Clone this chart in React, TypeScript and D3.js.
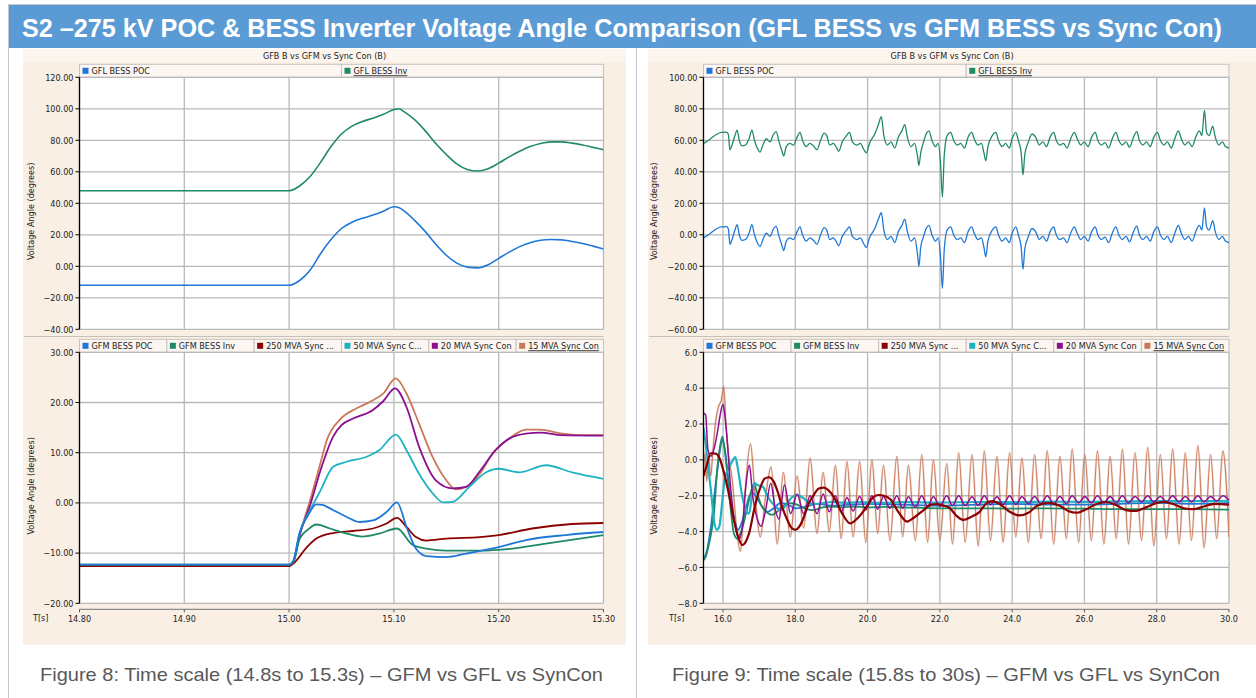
import React from 'react';
import * as d3 from 'd3';

type Pt = [number, number];

const TITLE = 'S2 \u2013275 kV POC & BESS Inverter Voltage Angle Comparison (GFL BESS vs GFM BESS vs Sync Con)';
const PANEL_TITLE = 'GFB B vs GFM vs Sync Con (B)';
const CAPTION_L = 'Figure 8: Time scale (14.8s to 15.3s) \u2013 GFM vs GFL vs SynCon';
const CAPTION_R = 'Figure 9: Time scale (15.8s to 30s) \u2013 GFM vs GFL vs SynCon';
const Y_TITLE = 'Voltage Angle (degrees)';

const upperLegend = ['GFL BESS POC', 'GFL BESS Inv'];
const lowerLegend = ['GFM BESS POC', 'GFM BESS Inv', '250 MVA Sync ...', '50 MVA Sync C...', '20 MVA Sync Con', '15 MVA Sync Con'];
const upperColors = ['#1f78d6', '#1f8a68'];
const lowerColors = ['#1f78d6', '#1f8a68', '#8b0000', '#1fb3c2', '#8b0f90', '#c97858'];

const xTicksL = [14.8, 14.9, 15.0, 15.1, 15.2, 15.3];
const xTicksR = [16, 18, 20, 22, 24, 26, 28, 30];
const yTicksUL = [-40, -20, 0, 20, 40, 60, 80, 100, 120];
const yTicksLL = [-20, -10, 0, 10, 20, 30];
const yTicksUR = [-60, -40, -20, 0, 20, 40, 60, 80, 100];
const yTicksLR = [-8, -6, -4, -2, 0, 2, 4, 6];

// ---- Upper-left: GFL BESS (14.8 - 15.3 s)
const ulPoc: Pt[] = [[14.8,-12],[15.0,-12],[15.01,-9],[15.02,-2.5],[15.03,8],[15.04,17],[15.05,24],[15.06,28],[15.07,30.5],[15.08,32.5],[15.09,35],[15.1,37.8],[15.105,37.2],[15.11,35],[15.12,29],[15.13,22],[15.14,14],[15.15,7],[15.16,2],[15.17,-0.5],[15.18,-1],[15.19,1],[15.2,5],[15.21,9],[15.22,12.5],[15.23,15],[15.24,16.5],[15.25,17],[15.26,16.8],[15.27,15.8],[15.28,14.5],[15.29,12.8],[15.3,11]];
const ulInv: Pt[] = [[14.8,48],[15.0,48],[15.01,51],[15.02,57],[15.03,66],[15.04,76],[15.05,84],[15.06,89],[15.07,92],[15.08,94],[15.09,96.5],[15.1,99.5],[15.105,100],[15.11,98],[15.12,93],[15.13,86],[15.14,78],[15.15,71],[15.16,65],[15.17,61.5],[15.18,60.5],[15.19,62],[15.2,65.5],[15.21,69.5],[15.22,73],[15.23,76],[15.24,78],[15.25,79],[15.26,79],[15.27,78.2],[15.28,77],[15.29,75.5],[15.3,74]];

// ---- Lower-left: GFM BESS and Sync Cons (14.8 - 15.3 s)
const llPoc: Pt[] = [[14.8,-12.3],[15.0,-12.3],[15.004,-11.5],[15.01,-6],[15.018,-2.5],[15.026,-0.3],[15.032,-0.4],[15.039,-1.1],[15.055,-2.8],[15.067,-3.8],[15.08,-3.5],[15.093,-1.8],[15.103,0.1],[15.112,-4.8],[15.121,-9.1],[15.131,-10.6],[15.15,-10.8],[15.169,-10.1],[15.2,-8.8],[15.226,-7.4],[15.264,-6.4],[15.3,-5.8]];
const llInv: Pt[] = [[14.8,-12.3],[15.0,-12.3],[15.004,-11.8],[15.01,-7.2],[15.018,-5.3],[15.026,-4.3],[15.039,-5.1],[15.055,-6.1],[15.07,-6.7],[15.086,-6.1],[15.103,-5.1],[15.118,-8.4],[15.131,-9.1],[15.15,-9.5],[15.182,-9.5],[15.213,-9.1],[15.245,-8.1],[15.3,-6.4]];
const ll250: Pt[] = [[14.8,-12.6],[15.0,-12.6],[15.004,-12.1],[15.017,-8.8],[15.026,-7.1],[15.042,-6.0],[15.061,-5.6],[15.08,-5.1],[15.093,-4.1],[15.103,-3.0],[15.112,-4.8],[15.121,-6.8],[15.131,-7.5],[15.15,-7.1],[15.182,-6.8],[15.2,-6.4],[15.232,-5.1],[15.27,-4.2],[15.3,-4.0]];
const ll50: Pt[] = [[14.8,-12.4],[15.0,-12.4],[15.004,-11.6],[15.01,-6],[15.02,-1.5],[15.03,2.5],[15.042,7.2],[15.055,8.2],[15.074,9.2],[15.086,10.5],[15.102,13.6],[15.112,10.5],[15.124,5.8],[15.137,1.9],[15.147,0.1],[15.156,0.2],[15.172,3.2],[15.188,6.1],[15.2,6.8],[15.22,6.1],[15.245,7.5],[15.27,6.1],[15.3,4.8]];
const ll20: Pt[] = [[14.8,-12.5],[15.0,-12.5],[15.004,-11.8],[15.01,-6.5],[15.02,-0.5],[15.03,6.5],[15.042,13.2],[15.05,15.5],[15.061,16.8],[15.08,18.5],[15.09,20.3],[15.101,22.8],[15.112,19.1],[15.124,11.2],[15.14,4.5],[15.156,2.9],[15.169,3.2],[15.182,6.3],[15.197,10.5],[15.21,12.8],[15.226,13.8],[15.24,14.0],[15.26,13.5],[15.3,13.4]];
const ll15: Pt[] = [[14.8,-12.5],[15.0,-12.5],[15.004,-11.8],[15.01,-6.5],[15.02,0.5],[15.03,8],[15.036,12.5],[15.048,16.5],[15.064,18.8],[15.077,20.1],[15.09,21.8],[15.1016,24.8],[15.112,21.8],[15.124,15.8],[15.137,9.1],[15.15,4.5],[15.159,2.7],[15.169,3.2],[15.182,5.8],[15.194,9.8],[15.21,12.8],[15.226,14.6],[15.239,14.6],[15.261,13.8],[15.277,13.5],[15.3,13.5]];

// ---- Upper-right: GFL BESS (15.5 - 30 s)
const urTime = [15.46,15.6,15.8,15.95,16.1,16.15,16.19,16.25,16.33,16.39,16.45,16.52,16.62,16.72,16.8,16.87,16.95,17.02,17.12,17.2,17.3,17.4,17.47,17.55,17.62,17.68,17.75,17.85,17.95,18.05,18.13,18.2,18.3,18.4,18.5,18.6,18.7,18.8,18.87,18.95,19.05,19.15,19.2,19.3,19.42,19.5,19.58,19.7,19.8,19.9,19.97,20.05,20.2,20.3,20.38,20.45,20.55,20.65,20.75,20.85,20.95,21.03,21.1,21.2,21.3,21.38,21.42,21.47,21.55,21.62,21.7,21.78,21.88,21.95,22.02,22.07,22.12,22.2,22.3,22.38,22.48,22.58,22.68,22.78,22.88,22.95,23.05,23.15,23.22,23.27,23.33,23.45,23.55,23.62,23.72,23.82,23.92,24.0,24.1,24.17,24.25,24.3,24.35,24.45,24.55,24.65,24.75,24.85,24.95,25.05,25.15,25.22,25.32,25.42,25.52,25.62,25.72,25.8,25.9,26.0,26.1,26.2,26.3,26.37,26.47,26.57,26.67,26.77,26.87,26.95,27.05,27.15,27.25,27.35,27.45,27.52,27.62,27.72,27.82,27.92,28.02,28.1,28.2,28.3,28.4,28.5,28.6,28.68,28.78,28.88,28.98,29.08,29.18,29.25,29.32,29.38,29.45,29.55,29.62,29.72,29.82,29.9,30.0];
const urPoc = [-2,0,3.5,5,5.2,3.5,-6,-3,3,6.5,0,-3.5,-3,1,6.5,0,-5,-7.5,-2,1,-1,4,5.5,-1,-6,-10,-4,-2,-3,2,5,0,-4,-2,-3.5,-6,0,4.5,3,-3,-2,-5,-7,-1,3,5,-1,-3,-2,-6,-8,-2,4,10,14,3,-3,-1,-5,2,6,10,2,-4,-2,-12,-20,-8,-1,4,6,0,-4,-2,-15,-34,-10,3,5,0,-3,-2,-5,2,5,1,-3,-2,-8,-14,-4,3,5,0,-4,-2,-5,1,5,0,-8,-22,-9,-1,4,2,-3,-1,-4,2,5,0,-3,-2,-5,1,5,1,-3,-1,-4,2,5,0,-3,-1.5,-5,1,5,0,-3,-1,-4.5,1.5,5.5,0,-3,-1,-4,2,5,0,-3,-1,-5,1,6,1,-3,-1,-4,2,6,3,17,5,3,9,2,-3,-1,-4,-5];
const urInv = [58,60,63.5,65,65.2,63.5,54,57,63,66.5,60,56.5,57,61,66.5,60,55,52.5,58,61,59,64,65.5,59,54,50,56,58,57,62,65,60,56,58,56.5,54,60,64.5,63,57,58,55,53,59,63,65,59,57,58,54,52,58,64,70,75,63,57,59,55,62,66,70,62,56,58,50,44,52,59,64,66,60,56,58,45,24,50,63,65,60,57,58,55,62,65,61,57,58,52,47,56,63,65,60,56,58,55,61,65,60,52,38,51,59,64,62,57,59,56,62,65,60,57,58,55,61,65,61,57,59,56,62,65,60,57,58.5,55,61,65,60,57,59,55.5,61.5,65.5,60,57,59,56,62,65,60,57,59,55,61,66,61,57,59,56,62,66,63,79,65,63,69,62,57,59,56,55];

// ---- Lower-right: GFM BESS and Sync Cons (15.5 - 30 s)
const lrPoc: Pt[] = [[15.46,-5.5],[15.52,-5.3],[15.6,-4.6],[15.68,-3.5],[15.76,-2.0],[15.84,-0.6],[15.92,0.6],[15.98,1.1],[16.05,0.6],[16.12,-0.6],[16.22,-2.2],[16.32,-3.4],[16.42,-3.9],[16.5,-3.6],[16.6,-3.0],[16.7,-2.2],[16.8,-1.8],[16.9,-2.0],[17.05,-2.5],[17.22,-2.9],[17.4,-2.7],[17.6,-2.4],[17.8,-2.5],[18.0,-2.7],[18.3,-2.6],[18.6,-2.45],[19.0,-2.55],[19.5,-2.5],[20.0,-2.45],[21.0,-2.5],[22.0,-2.55],[23.0,-2.5],[24.0,-2.45],[25.0,-2.5],[26.0,-2.5],[27.0,-2.45],[28.0,-2.4],[29.0,-2.45],[30.0,-2.4]];
const lrInv: Pt[] = [[15.46,-5.6],[15.52,-5.4],[15.6,-4.8],[15.68,-4.0],[15.75,-3.0],[15.82,-1.0],[15.9,0.5],[15.98,1.3],[16.05,0.5],[16.12,-0.8],[16.2,-2.5],[16.3,-4.1],[16.4,-4.4],[16.5,-4.0],[16.6,-3.3],[16.7,-2.4],[16.8,-1.6],[16.86,-1.34],[16.95,-1.9],[17.05,-2.5],[17.2,-2.9],[17.35,-3.07],[17.5,-2.9],[17.7,-2.5],[17.87,-2.42],[18.05,-2.5],[18.3,-2.75],[18.51,-2.8],[18.75,-2.65],[19.0,-2.6],[19.3,-2.65],[19.6,-2.6],[20.0,-2.65],[20.5,-2.62],[21.0,-2.65],[22.0,-2.7],[23.0,-2.7],[24.0,-2.72],[25.0,-2.7],[26.0,-2.72],[27.0,-2.75],[28.0,-2.75],[29.0,-2.75],[30.0,-2.78]];
const lr250: Pt[] = [[15.46,-0.9],[15.55,-0.3],[15.66,0.37],[15.8,0.35],[15.9,0.1],[16.03,-0.74],[16.15,-1.8],[16.3,-3.35],[16.42,-4.3],[16.53,-4.75],[16.62,-4.6],[16.72,-4.1],[16.88,-2.6],[17.04,-1.5],[17.15,-1.05],[17.27,-0.97],[17.4,-1.2],[17.5,-1.7],[17.65,-2.7],[17.78,-3.35],[17.9,-3.8],[18.0,-3.9],[18.12,-3.7],[18.24,-3.17],[18.38,-2.4],[18.51,-1.96],[18.65,-1.6],[18.79,-1.55],[18.92,-1.7],[19.06,-2.05],[19.3,-3.0],[19.52,-3.54],[19.75,-3.2],[19.98,-2.6],[20.15,-2.1],[20.3,-1.96],[20.45,-2.0],[20.63,-2.2],[20.85,-2.9],[21.09,-3.44],[21.3,-3.2],[21.55,-2.8],[21.75,-2.5],[21.92,-2.46],[22.1,-2.55],[22.28,-2.7],[22.45,-3.1],[22.65,-3.35],[22.85,-3.2],[23.1,-2.9],[23.3,-2.4],[23.45,-2.3],[23.65,-2.45],[23.9,-2.85],[24.2,-3.1],[24.45,-2.95],[24.7,-2.55],[25.0,-2.4],[25.3,-2.55],[25.55,-2.85],[25.8,-2.95],[26.05,-2.75],[26.35,-2.45],[26.6,-2.35],[26.9,-2.55],[27.15,-2.8],[27.4,-2.85],[27.7,-2.65],[28.0,-2.4],[28.2,-2.35],[28.5,-2.5],[28.75,-2.7],[29.0,-2.75],[29.3,-2.6],[29.6,-2.45],[30.0,-2.5]];
const lr50: Pt[] = [[15.46,1.8],[15.52,0.9],[15.6,-0.5],[15.68,-2.0],[15.76,-3.5],[15.83,-3.9],[15.9,-3.7],[15.97,-2.5],[16.05,-1.0],[16.15,-0.5],[16.25,-0.1],[16.34,0.15],[16.42,-0.6],[16.52,-1.9],[16.62,-2.7],[16.72,-3.0],[16.8,-2.0],[16.87,-1.3],[16.95,-1.4],[17.1,-1.5],[17.25,-2.1],[17.45,-2.6],[17.6,-2.8],[17.75,-2.5],[17.9,-2.1],[18.05,-1.96],[18.2,-2.1],[18.42,-2.42],[18.6,-2.45],[18.79,-2.4],[19.0,-2.35],[19.25,-2.38],[19.5,-2.4],[19.8,-2.35],[20.1,-2.38],[20.5,-2.4],[21.0,-2.36],[22.0,-2.38],[23.0,-2.35],[24.0,-2.36],[25.0,-2.33],[26.0,-2.34],[27.0,-2.32],[28.0,-2.3],[29.0,-2.3],[30.0,-2.28]];
const lr20: Pt[] = [[15.46,2.6],[15.52,2.5],[15.58,0.6],[15.66,0.2],[15.75,0.6],[15.85,1.6],[15.93,2.6],[16.0,3.1],[16.05,2.5],[16.12,1.0],[16.2,-1.3],[16.3,-3.2],[16.45,-4.4],[16.55,-3.5],[16.63,-1.5],[16.73,-0.3],[16.82,-2.0],[16.95,-3.3],[17.05,-3.7],[17.18,-2.8],[17.32,-1.3],[17.45,-2.8],[17.55,-3.3],[17.7,-1.4],[17.87,-3.0],[18.05,-1.9],[18.23,-3.0],[18.41,-2.0],[18.6,-3.0],[18.77,-1.9],[18.94,-2.9],[19.11,-2.0],[19.27,-2.9],[19.43,-2.1],[19.6,-2.85],[19.78,-2.05],[19.95,-2.8],[20.12,-2.0],[20.28,-2.75],[20.44,-2.05],[20.62,-2.7],[20.81,-2.0],[20.97,-2.7],[21.13,-2.05],[21.32,-2.65],[21.5,-2.0],[21.66,-2.6],[21.82,-2.05],[22.0,-2.6],[22.19,-2.0],[22.35,-2.55],[22.52,-2.0],[22.7,-2.55],[22.89,-2.05],[23.06,-2.55],[23.23,-2.0],[23.4,-2.5],[23.58,-2.05],[23.75,-2.5],[23.93,-2.0],[24.1,-2.5],[24.27,-2.05],[24.45,-2.45],[24.62,-2.05],[24.8,-2.45],[24.97,-2.0],[25.15,-2.45],[25.32,-2.05],[25.5,-2.45],[25.66,-2.0],[25.84,-2.4],[26.01,-2.05],[26.19,-2.4],[26.36,-2.0],[26.54,-2.4],[26.71,-2.05],[26.88,-2.4],[27.05,-2.0],[27.22,-2.4],[27.4,-2.05],[27.58,-2.35],[27.75,-2.0],[27.92,-2.35],[28.1,-2.05],[28.27,-2.35],[28.44,-2.0],[28.62,-2.35],[28.79,-2.05],[28.96,-2.35],[29.14,-2.0],[29.31,-2.35],[29.49,-2.05],[29.66,-2.3],[29.83,-2.0],[30.0,-2.25]];
const lr15: Pt[] = [[15.46,-1.0],[15.5,0.4],[15.55,-1.2],[15.6,0.2],[15.66,-0.9],[15.72,0.5],[15.8,2.2],[15.88,3.0],[15.95,3.3],[16.02,4.1],[16.08,2.0],[16.15,0.3],[16.26,-1.2],[16.36,-3.5],[16.48,-5.1],[16.6,-2.0],[16.76,0.9],[16.88,-1.8],[17.03,-4.3],[17.18,-2.0],[17.33,-0.4],[17.5,-4.7],[17.67,-0.7],[17.86,-4.3],[18.05,-0.9],[18.23,-3.8],[18.41,0.1],[18.6,-4.1],[18.77,-0.7],[18.94,-4.0],[19.11,-0.3],[19.27,-4.4],[19.43,-0.1],[19.6,-4.3],[19.78,-0.1],[19.95,-4.6],[20.12,0.0],[20.28,-4.1],[20.44,-0.3],[20.62,-4.5],[20.81,0.2],[20.97,-4.3],[21.13,-0.3],[21.32,-4.5],[21.5,0.3],[21.66,-4.6],[21.82,0.0],[22.0,-4.5],[22.19,-0.2],[22.35,-4.7],[22.52,0.4],[22.7,-4.6],[22.89,0.3],[23.06,-4.8],[23.23,0.5],[23.4,-4.5],[23.58,0.2],[23.75,-4.6],[23.93,0.4],[24.1,-4.3],[24.27,0.1],[24.45,-4.6],[24.62,0.3],[24.8,-4.4],[24.97,0.5],[25.15,-4.7],[25.32,0.2],[25.5,-4.4],[25.66,0.6],[25.84,-4.6],[26.01,0.3],[26.19,-4.5],[26.36,0.5],[26.54,-4.7],[26.71,0.2],[26.88,-4.4],[27.05,0.6],[27.22,-4.7],[27.4,0.4],[27.58,-4.5],[27.75,0.7],[27.92,-4.8],[28.1,0.3],[28.27,-4.4],[28.44,0.6],[28.62,-4.7],[28.79,0.4],[28.96,-4.5],[29.14,0.8],[29.31,-4.9],[29.49,0.3],[29.66,-4.4],[29.83,0.5],[30.0,-4.3]];

const FONT = "'DejaVu Sans Condensed','DejaVu Sans',sans-serif";
const SANS = "'Liberation Sans', Arial, sans-serif";
const BEIGE = '#f9efe5';
const GRID = '#b9b9b9';

type Series = { data: Pt[]; color: string; width: number; curve: any; opacity?: number };

interface PlotProps {
  id: string;
  px0: number; px1: number; py0: number; py1: number;
  xDom: [number, number]; yDom: [number, number];
  xTicks: number[]; yTicks: number[];
  yFmt: (n: number) => string; xFmt: (n: number) => string;
  series: Series[];
  legend: string[]; legendColors: string[];
  showX: boolean; tLabelX: number; yTitleX: number;
}

function Plot(p: PlotProps) {
  const xs = d3.scaleLinear().domain(p.xDom).range([p.px0, p.px1]);
  const ys = d3.scaleLinear().domain(p.yDom).range([p.py1, p.py0]);
  const cellW = (p.px1 - p.px0) / p.legend.length;
  const legTop = p.py0 - 13;
  return (
    <g>
      {p.legend.map((lab, i) => {
        const cx = p.px0 + i * cellW;
        const last = i === p.legend.length - 1;
        return (
          <g key={lab}>
            <rect x={cx} y={legTop} width={cellW} height={13} fill="#fbf6f1" stroke="#c9c2bb" strokeWidth={1} />
            <rect x={cx + 3} y={legTop + 3.5} width={6} height={6} fill={p.legendColors[i]} />
            <text x={cx + 12} y={legTop + 10} fontSize={9} fontFamily={FONT} fill="#222"
              textDecoration={last ? 'underline' : undefined}>{lab}</text>
          </g>
        );
      })}
      <rect x={p.px0} y={p.py0} width={p.px1 - p.px0} height={p.py1 - p.py0} fill="#fff" />
      <clipPath id={p.id}>
        <rect x={p.px0} y={p.py0 - 1} width={p.px1 - p.px0} height={p.py1 - p.py0 + 2} />
      </clipPath>
      {p.yTicks.map((t) => (
        <line key={'gy' + t} x1={p.px0} x2={p.px1} y1={ys(t)} y2={ys(t)} stroke={GRID} strokeWidth={1.3} />
      ))}
      {p.xTicks.map((t) => (
        <line key={'gx' + t} x1={xs(t)} x2={xs(t)} y1={p.py0} y2={p.py1} stroke={GRID} strokeWidth={1.3} />
      ))}
      <g clipPath={`url(#${p.id})`}>
        {p.series.map((s, i) => {
          const gen = d3.line<Pt>().x((d) => xs(d[0])).y((d) => ys(d[1])).curve(s.curve);
          return <path key={i} d={gen(s.data) || ''} fill="none" stroke={s.color} strokeWidth={s.width}
            strokeOpacity={s.opacity ?? 1} strokeLinejoin="round" />;
        })}
      </g>
      <line x1={p.px0} x2={p.px0} y1={p.py0} y2={p.py1} stroke="#000" strokeWidth={1.3} />
      {p.yTicks.map((t) => (
        <g key={'ty' + t}>
          <line x1={p.px0 - 4} x2={p.px0} y1={ys(t)} y2={ys(t)} stroke="#000" strokeWidth={1} />
          <text x={p.px0 - 6} y={ys(t) + 3.2} textAnchor="end" fontSize={9} fontFamily={FONT} fill="#222">{p.yFmt(t)}</text>
        </g>
      ))}
      <text transform={`translate(${p.yTitleX},${(p.py0 + p.py1) / 2 + 8}) rotate(-90)`} textAnchor="middle"
        fontSize={9} fontFamily={FONT} fill="#222">{Y_TITLE}</text>
      {p.showX && (
        <g>
          <line x1={p.px0} x2={p.px1} y1={p.py1 + 6} y2={p.py1 + 6} stroke="#8a8a8a" strokeWidth={1.2} />
          {p.xTicks.map((t) => (
            <g key={'tx' + t}>
              <line x1={xs(t)} x2={xs(t)} y1={p.py1 + 6} y2={p.py1 + 9} stroke="#555" strokeWidth={1} />
              <text x={xs(t)} y={p.py1 + 19} textAnchor="middle" fontSize={9} fontFamily={FONT} fill="#222">{p.xFmt(t)}</text>
            </g>
          ))}
          <text x={p.tLabelX} y={p.py1 + 18} fontSize={9} fontFamily={FONT} fill="#222">T[s]</text>
        </g>
      )}
    </g>
  );
}

export default function App() {
  const f2 = d3.format('.2f');
  const f1 = d3.format('.1f');
  const mono = d3.curveMonotoneX;
  const urPocPts: Pt[] = urTime.map((t, i) => [t, urPoc[i]] as Pt);
  const urInvPts: Pt[] = urTime.map((t, i) => [t, urInv[i]] as Pt);

  const L = { x0: 79.5, x1: 603.5 };
  const R = { x0: 703.5, x1: 1229 };
  const U = { y0: 77.3, y1: 329.3 };
  const D = { y0: 352.3, y1: 603.3 };

  return (
    <svg width={1256} height={698} style={{ position: 'absolute', left: 0, top: 0, display: 'block' }}>
      <rect x={0} y={0} width={1256} height={698} fill="#fff" />
      <line x1={8} x2={1256} y1={4.5} y2={4.5} stroke="#c8c8c8" />
      <line x1={8.5} x2={8.5} y1={4} y2={698} stroke="#c8c8c8" />
      <line x1={636.5} x2={636.5} y1={48} y2={698} stroke="#c8c8c8" />
      <rect x={9} y={5} width={1247} height={43} fill="#5b9bd5" />
      <text x={22} y={37} fontSize={25} fontWeight="bold" fontFamily={SANS} fill="#fff"
        textLength={1200} lengthAdjust="spacingAndGlyphs">{TITLE}</text>

      {[{ x: 23, w: 603, cx: 324.5 }, { x: 648, w: 608, cx: 952 }].map((pn, i) => (
        <g key={i}>
          <rect x={pn.x} y={49} width={pn.w} height={596} fill={BEIGE} />
          <rect x={pn.x} y={49} width={pn.w} height={13} fill="#fcf5ee" />
          <text x={pn.cx} y={59} textAnchor="middle" fontSize={9} fontFamily={FONT} fill="#222">{PANEL_TITLE}</text>
          <line x1={pn.x + 1} x2={(i === 0 ? L.x1 : R.x1)} y1={336.5} y2={336.5} stroke="#c6c0ba" strokeWidth={1.2} />
        </g>
      ))}

      <Plot id="ul" px0={L.x0} px1={L.x1} py0={U.y0} py1={U.y1} xDom={[14.8, 15.3]} yDom={[-40, 120]}
        xTicks={xTicksL} yTicks={yTicksUL} yFmt={f2} xFmt={f2} legend={upperLegend} legendColors={upperColors}
        showX={false} tLabelX={33} yTitleX={34}
        series={[
          { data: ulPoc, color: upperColors[0], width: 1.6, curve: mono },
          { data: ulInv, color: upperColors[1], width: 1.6, curve: mono },
        ]} />
      <Plot id="ll" px0={L.x0} px1={L.x1} py0={D.y0} py1={D.y1} xDom={[14.8, 15.3]} yDom={[-20, 30]}
        xTicks={xTicksL} yTicks={yTicksLL} yFmt={f2} xFmt={f2} legend={lowerLegend} legendColors={lowerColors}
        showX={true} tLabelX={33} yTitleX={34}
        series={[
          { data: ll15, color: lowerColors[5], width: 1.8, curve: mono },
          { data: ll20, color: lowerColors[4], width: 1.8, curve: mono },
          { data: ll50, color: lowerColors[3], width: 1.8, curve: mono },
          { data: ll250, color: lowerColors[2], width: 1.8, curve: mono },
          { data: llInv, color: lowerColors[1], width: 1.8, curve: mono },
          { data: llPoc, color: lowerColors[0], width: 1.8, curve: mono },
        ]} />
      <Plot id="ur" px0={R.x0} px1={R.x1} py0={U.y0} py1={U.y1} xDom={[15.46, 30]} yDom={[-60, 100]}
        xTicks={xTicksR} yTicks={yTicksUR} yFmt={f2} xFmt={f1} legend={upperLegend} legendColors={upperColors}
        showX={false} tLabelX={669} yTitleX={657}
        series={[
          { data: urPocPts, color: upperColors[0], width: 1.3, curve: mono },
          { data: urInvPts, color: upperColors[1], width: 1.3, curve: mono },
        ]} />
      <Plot id="lr" px0={R.x0} px1={R.x1} py0={D.y0} py1={D.y1} xDom={[15.46, 30]} yDom={[-8, 6]}
        xTicks={xTicksR} yTicks={yTicksLR} yFmt={f1} xFmt={f1} legend={lowerLegend} legendColors={lowerColors}
        showX={true} tLabelX={669} yTitleX={657}
        series={[
          { data: lr15, color: lowerColors[5], width: 2.2, curve: mono, opacity: 0.25 },
          { data: lr15, color: lowerColors[5], width: 1.1, curve: mono, opacity: 0.95 },
          { data: lrPoc, color: lowerColors[0], width: 1.8, curve: mono },
          { data: lrInv, color: lowerColors[1], width: 1.8, curve: mono },
          { data: lr50, color: lowerColors[3], width: 2.2, curve: mono },
          { data: lr20, color: lowerColors[4], width: 1.5, curve: mono },
          { data: lr250, color: lowerColors[2], width: 2.2, curve: mono },
        ]} />

      <text x={40} y={681} fontSize={19} fontFamily={SANS} fill="#595959"
        textLength={563} lengthAdjust="spacingAndGlyphs">{CAPTION_L}</text>
      <text x={672} y={681} fontSize={19} fontFamily={SANS} fill="#595959"
        textLength={548} lengthAdjust="spacingAndGlyphs">{CAPTION_R}</text>
    </svg>
  );
}
